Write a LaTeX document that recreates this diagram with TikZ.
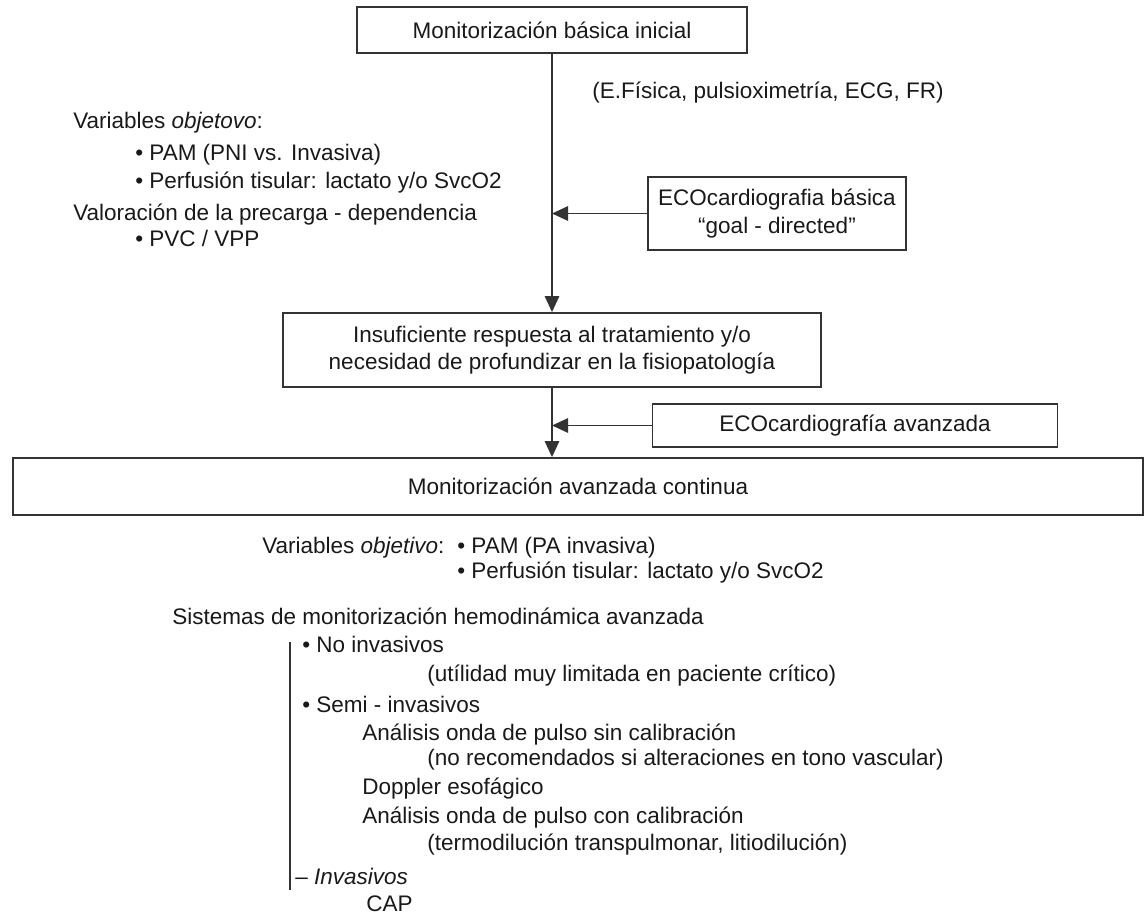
\documentclass[tikz,border=0pt]{standalone}
\usepackage{fontspec}
\setmainfont{Liberation Sans}
\usetikzlibrary{arrows.meta,positioning}

\begin{document}
\begin{tikzpicture}[x=0.025cm,y=-0.025cm,
  every node/.style={font=\fontsize{16}{19.5}\selectfont,text=black!90},
  box/.style={draw=black!80,line width=1.3pt,align=center,inner sep=0pt},
  txt/.style={anchor=base west,inner sep=0pt},
  ar/.style={-{Triangle[length=4mm,width=3.6mm]},line width=1.2pt,draw=black!80}]
  \useasboundingbox (0,0) rectangle (1148,916);
  % flow boxes
  \node[box,minimum width=9.75cm,minimum height=1.15cm] (basic) at (552,30) {Monitorización básica inicial};
  \node[box,minimum width=6.45cm,minimum height=1.825cm] (ecob) at (777,213.5) {ECOcardiografia básica\\“goal - directed”};
  \node[box,minimum width=13.45cm,minimum height=1.85cm] (insuf) at (552,350) {Insuficiente respuesta al tratamiento y/o\\necesidad de profundizar en la fisiopatología};
  \node[box,minimum width=10.125cm,minimum height=1.075cm] (ecoa) at (855,425.5) {ECOcardiografía avanzada};
  \node[box,minimum width=28.225cm,minimum height=1.425cm] (cont) at (578,486.5) {Monitorización avanzada continua};
  % upper notes
  \node[txt] (expl) at (592,98) {(E.Física, pulsioximetría, ECG, FR)};
  \node[txt] (vobj) at (73,128) {Variables \textit{objetovo}:};
  \node[txt] (pam) at (135,160) {• PAM (PNI vs. Invasiva)};
  \node[txt] (perf) at (135,188) {• Perfusión tisular: lactato y/o SvcO2};
  \node[txt] (prec) at (73,220) {Valoración de la precarga - dependencia};
  \node[txt] (pvc) at (135,246) {• PVC / VPP};
  % lower notes
  \node[txt] (vobjb) at (262,553) {Variables \textit{objetivo}:};
  \node[txt] (pamb) at (457,553) {• PAM (PA invasiva)};
  \node[txt] (perfb) at (457,578) {• Perfusión tisular: lactato y/o SvcO2};
  \node[txt] (sist) at (172,624) {Sistemas de monitorización hemodinámica avanzada};
  \node[txt] (noinv) at (302,652) {• No invasivos};
  \node[txt] (util) at (427,681) {(utílidad muy limitada en paciente crítico)};
  \node[txt] (semi) at (302,712) {• Semi - invasivos};
  \node[txt] (sincal) at (362,740) {Análisis onda de pulso sin calibración};
  \node[txt] (norec) at (427,765) {(no recomendados si alteraciones en tono vascular)};
  \node[txt] (dopp) at (362,794) {Doppler esofágico};
  \node[txt] (concal) at (362,823) {Análisis onda de pulso con calibración};
  \node[txt] (termo) at (427,850) {(termodilución transpulmonar, litiodilución)};
  \node[txt] (inv) at (295,884) {– \textit{Invasivos}};
  \node[txt] (cap) at (366,911) {CAP};
  \coordinate (bartop) at (290,642);
  \coordinate (barbot) at (290,890);
  % connectors
  \draw[ar] (basic.south) -- (insuf.north);
  \draw[ar] (ecob.west) -- (ecob.west -| basic.south);
  \draw[ar] (insuf.south) -- (cont.north -| insuf.south);
  \draw[ar] (ecoa.west) -- (ecoa.west -| insuf.south);
  \draw[black!80,line width=0.9pt] (bartop) -- (barbot);
\end{tikzpicture}
\end{document}
